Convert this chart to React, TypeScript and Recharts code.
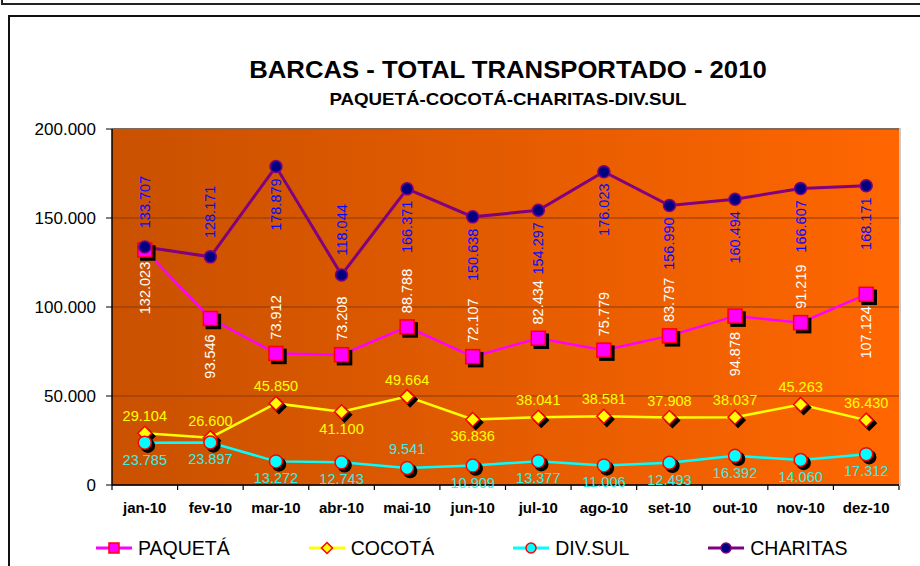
import React from 'react';
import { LineChart, Line, XAxis, YAxis, CartesianGrid, LabelList, ReferenceLine } from 'recharts';

const months = ['jan-10', 'fev-10', 'mar-10', 'abr-10', 'mai-10', 'jun-10', 'jul-10', 'ago-10', 'set-10', 'out-10', 'nov-10', 'dez-10'];
const paqueta = [132023, 93546, 73912, 73208, 88788, 72107, 82434, 75779, 83797, 94878, 91219, 107124];
const cocota = [29104, 26600, 45850, 41100, 49664, 36836, 38041, 38581, 37908, 38037, 45263, 36430];
const divSul = [23785, 23897, 13272, 12743, 9541, 10909, 13377, 11006, 12493, 16392, 14060, 17312];
const charitas = [133707, 128171, 178879, 118044, 166371, 150638, 154297, 176023, 156990, 160494, 166607, 168171];
const yTicks = [0, 50000, 100000, 150000, 200000];

// months where the value label sits on the other side of the point
const paquetaBelow = ['jan-10', 'fev-10', 'out-10', 'dez-10'];
const cocotaBelow = ['abr-10', 'jun-10'];
const divSulAbove = ['mai-10'];
const charitasAbove = ['jan-10', 'fev-10', 'abr-10'];

const data = months.map((m, i) => ({
  month: m,
  paqueta: paqueta[i],
  cocota: cocota[i],
  divSul: divSul[i],
  charitas: charitas[i],
}));

const FONT = '"Liberation Sans", Arial, sans-serif';
const W = 920;
const H = 566;
const PLOT_LEFT = 112;
const PLOT_RIGHT = 899;
const BAND = (PLOT_RIGHT - PLOT_LEFT) / months.length;
const LABEL_SIZE = 14.5;

const fmt = (v: number) => String(v).replace(/\B(?=(\d{3})+(?!\d))/g, '.');

const idxOf = (p: any, arr: number[]) => (typeof p.index === 'number' ? p.index : arr.indexOf(p.value));

const Square = ({ cx, cy, s, fill, stroke }: any) => (
  <rect x={cx - s / 2} y={cy - s / 2} width={s} height={s} fill={fill} stroke={stroke} strokeWidth={1.5} />
);
const Diamond = ({ cx, cy, s, fill, stroke }: any) => (
  <polygon
    points={`${cx},${cy - s / 2} ${cx + s / 2},${cy} ${cx},${cy + s / 2} ${cx - s / 2},${cy}`}
    fill={fill}
    stroke={stroke}
    strokeWidth={1.5}
  />
);
const Circle = ({ cx, cy, s, fill, stroke }: any) => (
  <circle cx={cx} cy={cy} r={s / 2} fill={fill} stroke={stroke} strokeWidth={1.5} />
);

const shadowDot = (Shape: any, s: number, fill: string, stroke: string) => (p: any) => {
  if (p.cx == null || p.cy == null) return <g key={p.index} />;
  return (
    <g key={p.index}>
      <Shape cx={p.cx + 3} cy={p.cy + 3} s={s} fill="#000" stroke="#000" />
      <Shape cx={p.cx} cy={p.cy} s={s} fill={fill} stroke={stroke} />
    </g>
  );
};

const charitasDot = (p: any) => {
  if (p.cx == null || p.cy == null) return <g key={p.index} />;
  return <circle key={p.index} cx={p.cx} cy={p.cy} r={6} fill="#000080" stroke="#800080" strokeWidth={1.5} />;
};

const vLabel = (arr: number[], flip: string[], normal: number, flipped: number, color: string) => (p: any) => {
  const i = idxOf(p, arr);
  const off = flip.includes(months[i]) ? flipped : normal;
  const x = p.x;
  const y = p.y + off;
  return (
    <text
      x={x}
      y={y}
      transform={`rotate(-90 ${x} ${y})`}
      textAnchor="middle"
      dominantBaseline="central"
      fill={color}
      fontSize={LABEL_SIZE}
      fontFamily={FONT}
    >
      {fmt(p.value)}
    </text>
  );
};

const hLabel = (arr: number[], flip: string[], normal: number, flipped: number, color: string) => (p: any) => {
  const i = idxOf(p, arr);
  const off = flip.includes(months[i]) ? flipped : normal;
  return (
    <text
      x={p.x}
      y={p.y + off}
      textAnchor="middle"
      dominantBaseline="central"
      fill={color}
      fontSize={LABEL_SIZE}
      fontFamily={FONT}
    >
      {fmt(p.value)}
    </text>
  );
};

const XTick = (p: any) => {
  const { x, y, payload, index } = p;
  const last = index === months.length - 1;
  return (
    <g>
      <line x1={x - BAND / 2} x2={x - BAND / 2} y1={y} y2={y + 5} stroke="#000" strokeWidth={1.2} />
      {last && <line x1={x + BAND / 2} x2={x + BAND / 2} y1={y} y2={y + 5} stroke="#000" strokeWidth={1.2} />}
      <text x={x} y={y + 28} textAnchor="middle" fontSize={15} fontWeight="bold" fontFamily={FONT} fill="#000">
        {payload.value}
      </text>
    </g>
  );
};

const legendItems = [
  { name: 'PAQUETÁ', color: '#ff00ff', shape: Square, fill: '#ff00ff', stroke: '#ff0000', s: 10 },
  { name: 'COCOTÁ', color: '#ffff00', shape: Diamond, fill: '#ffff00', stroke: '#ff0000', s: 11 },
  { name: 'DIV.SUL', color: '#00ffff', shape: Circle, fill: '#00ffff', stroke: '#ff0000', s: 10 },
  { name: 'CHARITAS', color: '#800080', shape: Circle, fill: '#000080', stroke: '#800080', s: 10 },
];

export default function App() {
  return (
    <div
      style={{
        position: 'absolute',
        left: 0,
        top: 0,
        width: W,
        height: H,
        overflow: 'hidden',
        background: '#fff',
        fontFamily: FONT,
      }}
    >
      <div style={{ position: 'absolute', left: 1, top: -20, width: 960, height: 21, border: '2px solid #222' }} />
      <div style={{ position: 'absolute', left: 8, top: 15, width: 960, height: 600, border: '2px solid #111' }} />
      <div
        style={{
          position: 'absolute',
          left: 0,
          width: 1016,
          top: 56,
          textAlign: 'center',
          fontSize: 24,
          fontWeight: 'bold',
          color: '#000',
          transform: 'scaleX(1.07)',
          transformOrigin: '508px 0',
        }}
      >
        BARCAS - TOTAL TRANSPORTADO - 2010
      </div>
      <div
        style={{
          position: 'absolute',
          left: 0,
          width: 1016,
          top: 90,
          textAlign: 'center',
          fontSize: 17,
          fontWeight: 'bold',
          color: '#000',
          transform: 'scaleX(1.1)',
          transformOrigin: '508px 0',
        }}
      >
        PAQUETÁ-COCOTÁ-CHARITAS-DIV.SUL
      </div>

      <div style={{ position: 'absolute', left: 0, top: 0 }}>
        <LineChart width={W} height={H} data={data} margin={{ top: 129, right: W - PLOT_RIGHT, bottom: 51, left: 0 }}>
          <defs>
            <linearGradient id="bg" x1="0" y1="0" x2="1" y2="0">
              <stop offset="0%" stopColor="#c95100" />
              <stop offset="100%" stopColor="#ff6600" />
            </linearGradient>
          </defs>
          <CartesianGrid vertical={false} fill="url(#bg)" stroke="#8a3a08" strokeWidth={1.2} />
          <ReferenceLine y={200000} stroke="#7d6a5c" strokeWidth={2} />
          <XAxis
            dataKey="month"
            height={30}
            padding={{ left: BAND / 2, right: BAND / 2 }}
            tickLine={false}
            tickSize={0}
            tickMargin={0}
            axisLine={{ stroke: '#000', strokeWidth: 1.5 }}
            tick={<XTick />}
            interval={0}
          />
          <YAxis
            width={PLOT_LEFT}
            domain={[0, 200000]}
            ticks={yTicks}
            tickFormatter={fmt}
            tickSize={6}
            tickMargin={10}
            tickLine={{ stroke: '#000' }}
            axisLine={{ stroke: '#000', strokeWidth: 1.5 }}
            tick={{ fill: '#000', fontSize: 17, fontFamily: FONT }}
          />
          <Line
            dataKey="paqueta"
            stroke="#ff00ff"
            strokeWidth={2.5}
            dot={shadowDot(Square, 14, '#ff00ff', '#ff0000')}
            isAnimationActive={false}
          >
            <LabelList dataKey="paqueta" content={vLabel(paqueta, paquetaBelow, -36, 38, '#ffffff')} />
          </Line>
          <Line
            dataKey="cocota"
            stroke="#ffff00"
            strokeWidth={2.5}
            dot={shadowDot(Diamond, 14, '#ffff00', '#ff0000')}
            isAnimationActive={false}
          >
            <LabelList dataKey="cocota" content={hLabel(cocota, cocotaBelow, -17, 17, '#ffff00')} />
          </Line>
          <Line
            dataKey="divSul"
            stroke="#00ffff"
            strokeWidth={2.5}
            dot={shadowDot(Circle, 13, '#00ffff', '#ff0000')}
            isAnimationActive={false}
          >
            <LabelList dataKey="divSul" content={hLabel(divSul, divSulAbove, 17, -19, '#33f0e6')} />
          </Line>
          <Line
            dataKey="charitas"
            stroke="#800080"
            strokeWidth={3}
            dot={charitasDot}
            isAnimationActive={false}
          >
            <LabelList dataKey="charitas" content={vLabel(charitas, charitasAbove, 38, -45, '#0a0aff')} />
          </Line>
        </LineChart>
      </div>
      <div style={{ position: 'absolute', left: PLOT_RIGHT, top: 128, width: 2, height: 358, background: '#c8c8c8' }} />

      <div style={{ position: 'absolute', left: 95, top: 537, display: 'flex', gap: 78, alignItems: 'center' }}>
        {legendItems.map((it) => {
          const Shape = it.shape;
          return (
            <div key={it.name} style={{ display: 'flex', alignItems: 'center' }}>
              <svg width={38} height={20} style={{ display: 'block' }}>
                <line x1={1} x2={37} y1={10} y2={10} stroke={it.color} strokeWidth={3} />
                <Shape cx={19} cy={10} s={it.s} fill={it.fill} stroke={it.stroke} />
              </svg>
              <span style={{ fontSize: 19.5, marginLeft: 5, color: '#000', lineHeight: '22px' }}>{it.name}</span>
            </div>
          );
        })}
      </div>
    </div>
  );
}
